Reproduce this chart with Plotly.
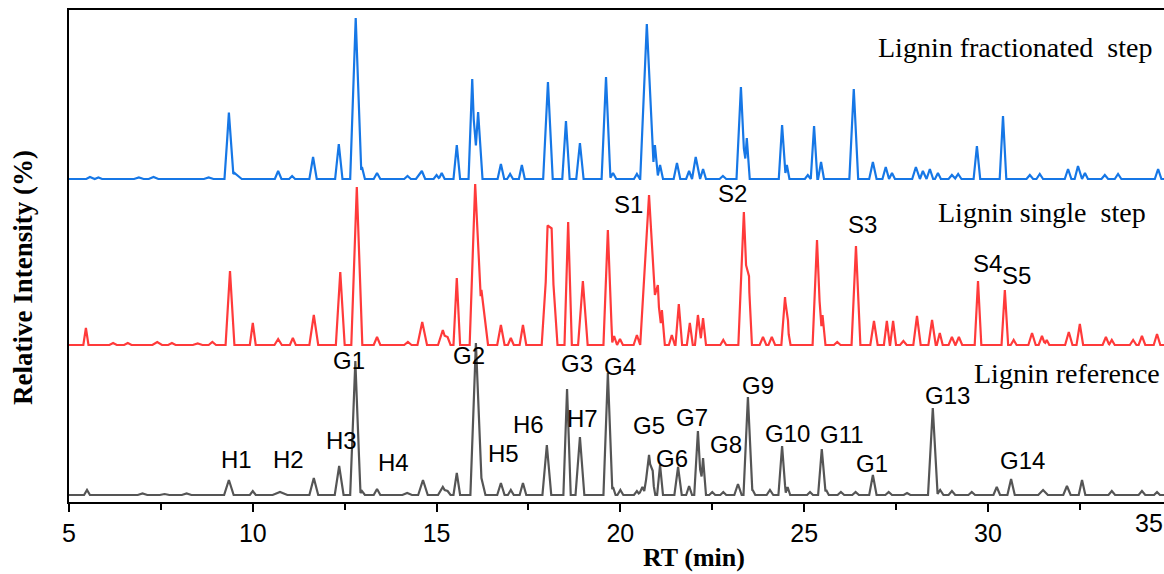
import plotly.graph_objects as go

# ---------------- data ----------------
# Peak tables: retention time (min), peak height (relative units), half base width (min)
frac_rt = [5.57, 5.8, 6.9, 7.3, 8.8, 9.35, 9.5, 10.69, 11.07, 11.64, 12.34, 12.8, 12.97, 13.38, 14.21,
           14.52, 14.6, 15.0, 15.14, 15.55, 15.97, 16.13, 16.75, 17.0, 17.32, 18.03, 18.52, 18.9, 19.61,
           19.8, 20.45, 20.72, 20.94, 21.08, 21.54, 21.87, 22.05, 22.25, 22.79, 23.28, 23.44, 24.4, 24.53,
           25.1, 25.27, 25.46, 26.35, 26.87, 27.22, 27.39, 28.04, 28.23, 28.42, 28.64, 29.02, 29.19, 29.7,
           30.41, 31.14, 31.41, 32.18, 32.45, 32.64, 33.18, 33.54, 34.63]
frac_h = [2, 1.5, 1.5, 2, 1.5, 65, 6, 8, 3, 22, 35, 161, 12, 6, 3,
          4, 8, 4, 6, 34, 100, 67, 15, 5, 14, 97, 58, 36, 102,
          6, 5, 155, 34, 14, 16, 8, 22, 10, 3, 92, 41, 54, 14,
          4, 53, 17, 90, 17, 12, 6, 12, 8, 10, 6, 4, 5, 33,
          63, 4, 5, 10, 13, 6, 4, 5, 10]
frac_w = [0.1, 0.1, 0.13, 0.13, 0.13, 0.12, 0.2, 0.09, 0.08, 0.1, 0.1, 0.15, 0.08, 0.09, 0.09,
          0.08, 0.09, 0.08, 0.08, 0.09, 0.1, 0.12, 0.09, 0.08, 0.08, 0.13, 0.1, 0.1, 0.12,
          0.09, 0.08, 0.18, 0.08, 0.08, 0.09, 0.08, 0.1, 0.08, 0.09, 0.12, 0.08, 0.09, 0.07,
          0.08, 0.09, 0.08, 0.12, 0.1, 0.09, 0.08, 0.1, 0.08, 0.09, 0.08, 0.09, 0.09, 0.09,
          0.09, 0.09, 0.09, 0.09, 0.09, 0.08, 0.09, 0.09, 0.09]

single_rt = [5.46, 6.2, 6.6, 7.4, 7.8, 8.5, 8.9, 9.38, 10.0, 10.69, 11.09, 11.66, 12.38, 12.83, 13.38,
             14.22, 14.61, 15.17, 15.3, 15.55, 16.05, 16.22, 16.75, 17.02, 17.35, 18.02, 18.13, 18.58,
             18.98, 19.66, 19.83, 19.99, 20.45, 20.78, 21.02, 21.13, 21.4, 21.59, 21.89, 22.11, 22.25,
             22.8, 23.36, 23.5, 23.88, 24.12, 24.48, 24.56, 25.35, 25.5, 25.9, 26.41, 26.9, 27.25, 27.42,
             27.7, 28.07, 28.48, 28.69, 29.02, 29.21, 29.73, 30.46, 30.7, 31.2, 31.47, 31.6, 32.2, 32.5,
             33.21, 33.37, 33.95, 34.19, 34.6]
single_h = [17, 2, 2, 3, 2, 1.5, 3, 74, 22, 6, 7, 30, 73, 158, 8,
            3, 23, 15, 8, 67, 158, 55, 20, 7, 20, 92, 88, 123,
            64, 115, 9, 6, 10, 150, 60, 35, 10, 41, 22, 30, 27,
            5, 133, 60, 8, 8, 48, 15, 105, 30, 3, 99, 24, 24, 24,
            4, 29, 25, 12, 8, 8, 64, 55, 5, 12, 9, 5, 13, 21,
            8, 5, 5, 9, 11]
single_w = [0.07, 0.1, 0.1, 0.13, 0.1, 0.13, 0.1, 0.12, 0.08, 0.1, 0.08, 0.12, 0.12, 0.15, 0.09,
            0.1, 0.13, 0.13, 0.08, 0.09, 0.15, 0.18, 0.1, 0.08, 0.09, 0.16, 0.16, 0.1,
            0.13, 0.12, 0.07, 0.08, 0.09, 0.24, 0.08, 0.08, 0.08, 0.09, 0.08, 0.08, 0.08,
            0.08, 0.15, 0.08, 0.09, 0.09, 0.1, 0.07, 0.12, 0.08, 0.09, 0.12, 0.1, 0.08, 0.08,
            0.09, 0.1, 0.1, 0.08, 0.09, 0.09, 0.09, 0.09, 0.08, 0.1, 0.09, 0.07, 0.1, 0.09,
            0.09, 0.08, 0.09, 0.09, 0.09]

ref_rt = [5.49, 7.0, 7.6, 8.2, 9.35, 10.0, 10.74, 11.66, 12.35, 12.79, 12.97, 13.38, 14.2, 14.63, 15.17,
          15.3, 15.55, 16.07, 16.2, 16.75, 17.02, 17.35, 18.0, 18.55, 18.9, 19.66, 19.8, 20.0, 20.45,
          20.6, 20.78, 20.88, 21.08, 21.57, 21.87, 22.11, 22.25, 22.5, 22.8, 23.2, 23.47, 23.6, 24.07,
          24.4, 24.55, 25.16, 25.48, 25.6, 26.0, 26.4, 26.87, 27.3, 27.8, 28.5, 28.7, 29.02, 29.56,
          30.24, 30.63, 31.5, 32.15, 32.56, 33.37, 34.19, 34.6]
ref_h = [5, 1.5, 1, 1.5, 15, 4, 3, 17, 29, 134, 4, 6, 2, 15, 8,
         4, 22, 152, 20, 12, 5, 12, 50, 106, 58, 122, 8, 5, 4,
         8, 40, 15, 30, 28, 9, 64, 37, 3, 3, 11, 98, 5, 5,
         49, 8, 3, 46, 5, 3, 3, 20, 3, 2, 87, 5, 4, 3,
         8, 16, 5, 9, 15, 4, 4, 3]
ref_w = [0.08, 0.13, 0.13, 0.13, 0.13, 0.08, 0.2, 0.12, 0.12, 0.14, 0.08, 0.09, 0.13, 0.13, 0.13,
         0.08, 0.09, 0.15, 0.13, 0.1, 0.08, 0.09, 0.12, 0.1, 0.12, 0.12, 0.07, 0.08, 0.08,
         0.1, 0.13, 0.07, 0.08, 0.1, 0.08, 0.1, 0.08, 0.08, 0.08, 0.1, 0.12, 0.07, 0.09,
         0.1, 0.07, 0.08, 0.1, 0.07, 0.09, 0.09, 0.1, 0.09, 0.09, 0.13, 0.09, 0.09, 0.09,
         0.09, 0.1, 0.13, 0.1, 0.09, 0.09, 0.09, 0.08]

# peak annotations (label, RT, height above plot bottom)
ref_labels = ["H1", "H2", "H3", "G1", "H4", "G2", "H5", "H6", "G3", "H7", "G4", "G5", "G6", "G7",
              "G8", "G9", "G10", "G11", "G1", "G13", "G14"]
ref_label_rt = [9.57, 10.96, 12.4, 12.62, 13.84, 15.88, 16.81, 17.49, 18.82, 18.96, 19.99, 20.78,
                21.4, 21.95, 22.87, 23.74, 24.56, 26.03, 26.84, 28.91, 30.95]
ref_label_y = [43, 43, 62, 142, 40, 147, 49, 78, 139, 84, 136, 77, 44, 85, 58, 117, 69, 68, 39, 107, 42]
single_labels = ["S1", "S2", "S3", "S4", "S5"]
single_label_rt = [20.21, 23.06, 26.6, 30.0, 30.79]
single_label_y = [298, 309, 278, 239, 227]

series_names = ["Lignin fractionated  step", "Lignin single  step", "Lignin reference"]
x_ticks = [5, 10, 15, 20, 25, 30, 35]

# ---------------- styling / layout constants ----------------
OFFSETS = [323, 157, 7]
COLORS = ["#1677e6", "#ff3a3a", "#555555"]
X_RANGE = [5, 34.79]
Y_RANGE = [0, 492]


def polyline(rt, h, w, x0=5.0, x1=35.0):
    xs = sorted(set([x0, x1] + [r - ww for r, ww in zip(rt, w)] + list(rt) + [r + ww for r, ww in zip(rt, w)]))
    ys = []
    for x in xs:
        s = 0.0
        for r, hh, ww in zip(rt, h, w):
            d = abs(x - r)
            if d < ww:
                s += hh * (1 - d / ww)
        ys.append(s)
    return xs, ys


fig = go.Figure()
for (rt, h, w), off, col, name in zip(
        [(frac_rt, frac_h, frac_w), (single_rt, single_h, single_w), (ref_rt, ref_h, ref_w)],
        OFFSETS, COLORS, series_names):
    xs, ys = polyline(rt, h, w)
    fig.add_trace(go.Scatter(x=xs, y=[off + v for v in ys], mode="lines", name=name,
                             line=dict(color=col, width=2.2), showlegend=False))

label_font = dict(family="Liberation Sans, Arial", size=24, color="black")
for t, x, y in zip(ref_labels, ref_label_rt, ref_label_y):
    fig.add_annotation(x=x, y=y, text=t, showarrow=False, font=label_font, xanchor="center", yanchor="middle")
for t, x, y in zip(single_labels, single_label_rt, single_label_y):
    fig.add_annotation(x=x, y=y, text=t, showarrow=False, font=label_font, xanchor="center", yanchor="middle")

serif = dict(family="Liberation Serif, Times New Roman", size=28, color="black")
for t, x, y in zip(series_names, [34.52, 34.35, 34.73], [455, 290, 129]):
    fig.add_annotation(x=x, y=y, text=t, showarrow=False, font=serif, xanchor="right", yanchor="middle")

# axis titles
fig.add_annotation(xref="paper", yref="paper", x=(694 - 69) / 1095, y=(502 - 557) / 492,
                   text="<b>RT (min)</b>", showarrow=False,
                   font=dict(family="Liberation Serif, Times New Roman", size=26, color="black"),
                   xanchor="center", yanchor="middle")
fig.add_annotation(xref="paper", yref="paper", x=(23 - 69) / 1095, y=(502 - 278) / 492,
                   text="<b>Relative Intensity (%)</b>", showarrow=False, textangle=-90,
                   font=dict(family="Liberation Serif, Times New Roman", size=27, color="black"),
                   xanchor="center", yanchor="middle")
# last tick label (axis runs past the picture edge)
fig.add_annotation(xref="paper", yref="paper", x=(1149 - 69) / 1095, y=(502 - 523) / 492,
                   text=str(x_ticks[-1]), showarrow=False,
                   font=dict(family="Liberation Sans, Arial", size=25, color="black"),
                   xanchor="center", yanchor="middle")

fig.update_layout(
    width=1164, height=574,
    margin=dict(l=69, r=0, t=10, b=72),
    plot_bgcolor="white", paper_bgcolor="white",
    xaxis=dict(range=X_RANGE, tickvals=x_ticks[:-1], ticks="outside", ticklen=8, tickwidth=2,
               tickcolor="black", showline=True, linewidth=2, linecolor="black", mirror=True,
               showgrid=False, zeroline=False,
               tickfont=dict(family="Liberation Sans, Arial", size=25, color="black"),
               minor=dict(dtick=2.5, tick0=5, ticks="outside", ticklen=6, tickwidth=2, tickcolor="black",
                          showgrid=False)),
    yaxis=dict(range=Y_RANGE, showline=True, linewidth=2, linecolor="black", showticklabels=False,
               ticks="", showgrid=False, zeroline=False),
)

fig.write_html("out.html")
